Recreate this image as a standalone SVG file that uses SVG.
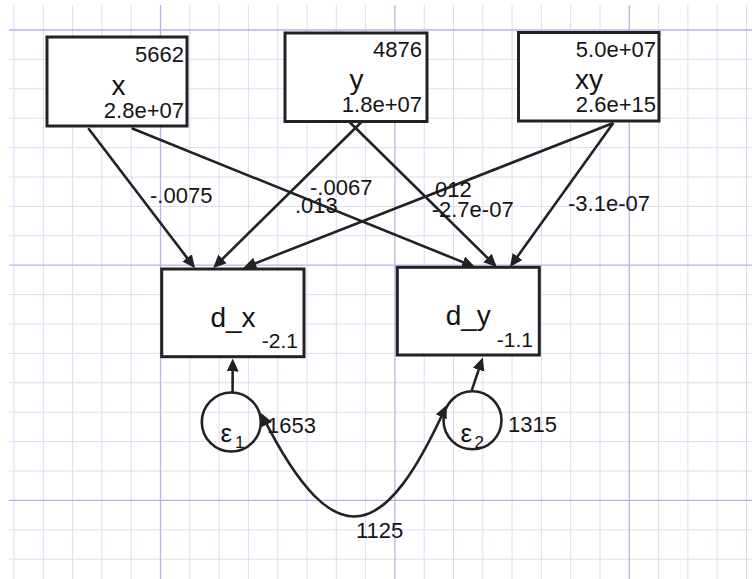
<svg xmlns="http://www.w3.org/2000/svg" width="752" height="579" viewBox="0 0 752 579">
<style>
.minor{stroke:#dcdaf3;stroke-width:1;fill:none}
.major{stroke:#b6b2ea;stroke-width:1.3;fill:none}
.box{fill:#fff;stroke:#222;stroke-width:3}
.circ{fill:none;stroke:#222;stroke-width:2.6}
.edge{fill:none;stroke:#222;stroke-width:2.6}
.arrow{marker-end:url(#ah)}
text{font-family:"Liberation Sans",Arial,Helvetica,sans-serif;fill:#141414}
.num{font-size:22px}
.lab{font-size:28px;text-anchor:middle}
.end{text-anchor:end}
.eps{font-size:26px}
.sub{font-size:17px}
</style>
<defs>
<marker id="ah" markerUnits="userSpaceOnUse" markerWidth="14" markerHeight="13" refX="10" refY="6" orient="auto-start-reverse">
<path d="M0,0 L13,6 L0,12 Z" fill="#222"/>
</marker>
</defs>
<rect x="0" y="0" width="752" height="579" fill="#fff"/>
<g id="grid">
<path class="minor" d="M14,5V579 M43.3,5V579 M72.6,5V579 M101.9,5V579 M131.2,5V579 M189.8,5V579 M219.1,5V579 M248.4,5V579 M277.7,5V579 M307,5V579 M336.3,5V579 M365.6,5V579 M424.2,5V579 M453.5,5V579 M482.8,5V579 M512.1,5V579 M541.4,5V579 M570.7,5V579 M600,5V579 M658.6,5V579 M687.9,5V579 M717.2,5V579 M746.5,5V579 M9,59.4H752 M9,88.8H752 M9,118.2H752 M9,147.6H752 M9,177H752 M9,206.4H752 M9,235.8H752 M9,294.6H752 M9,324H752 M9,353.4H752 M9,382.8H752 M9,412.2H752 M9,441.6H752 M9,471H752 M9,529.8H752 M9,559.2H752"/>
<path class="major" d="M160.5,5V579 M394.9,5V579 M629.3,5V579 M9,30H752 M9,265.2H752 M9,500.4H752"/>
</g>
<g id="connectors">
<path class="edge arrow" d="M88.3,128.3 L193.2,265.9"/>
<path class="edge arrow" d="M131.7,128.3 L472.2,265.9"/>
<path class="edge arrow" d="M362,121.5 L215.4,265.9"/>
<path class="edge arrow" d="M349,121.5 L494.6,264.9"/>
<path class="edge arrow" d="M613.3,123 L246.1,266.9"/>
<path class="edge arrow" d="M613.3,123 L511.7,264.6"/>
<path class="edge arrow" d="M232.6,392.5 L232.7,361.5"/>
<path class="edge arrow" d="M471.7,390.7 L481.8,360.3"/>
<path class="edge arrow" style="marker-start:url(#ah)" d="M262.3,415.7 C337,565.1 386.8,536.6 445.4,407.7"/>
<text class="num" x="150" y="203">-.0075</text>
<text class="num" x="310" y="195">-.0067</text>
<text class="num" x="295" y="213.3">.013</text>
<text class="num" x="435" y="196.7">012</text>
<text class="num" x="431.7" y="216.7">-2.7e-07</text>
<text class="num" x="568" y="211">-3.1e-07</text>
<text class="num" x="267" y="432.7">1653</text>
<text class="num" x="508" y="432.3">1315</text>
<text class="num" x="356" y="538.3">1125</text>
</g>
<g id="node-x">
<rect class="box" x="47" y="37" width="140" height="89"/>
<text class="num end" x="184" y="61.7">5662</text>
<text class="lab" x="118.5" y="94.5">x</text>
<text class="num end" x="184" y="118.3">2.8e+07</text>
</g>
<g id="node-y">
<rect class="box" x="285" y="33" width="142" height="88.5"/>
<text class="num end" x="422" y="56.7">4876</text>
<text class="lab" x="356.5" y="88.5">y</text>
<text class="num end" x="422" y="111.7">1.8e+07</text>
</g>
<g id="node-xy">
<rect class="box" x="518.5" y="32.5" width="140.5" height="88.5"/>
<text class="num end" x="656" y="56.7">5.0e+07</text>
<text class="lab" x="589" y="88.5">xy</text>
<text class="num end" x="656" y="111.7">2.6e+15</text>
</g>
<g id="node-d_x">
<rect class="box" x="161.7" y="269" width="142.3" height="87.7"/>
<text class="lab" x="233" y="326.7">d_x</text>
<text class="num end" x="298" y="348.3" style="font-size:21px">-2.1</text>
</g>
<g id="node-d_y">
<rect class="box" x="397.3" y="267.3" width="142" height="87.7"/>
<text class="lab" x="468.3" y="325">d_y</text>
<text class="num end" x="533" y="346.7" style="font-size:21px">-1.1</text>
</g>
<g id="node-e1">
<circle class="circ" cx="231.3" cy="422" r="29.5"/>
<text class="eps" x="220.5" y="441.7">ε</text>
<text class="sub" x="235" y="448.3">1</text>
</g>
<g id="node-e2">
<circle class="circ" cx="472.5" cy="420.3" r="29"/>
<text class="eps" x="460.5" y="441.7">ε</text>
<text class="sub" x="474.5" y="448.3">2</text>
</g>
</svg>
